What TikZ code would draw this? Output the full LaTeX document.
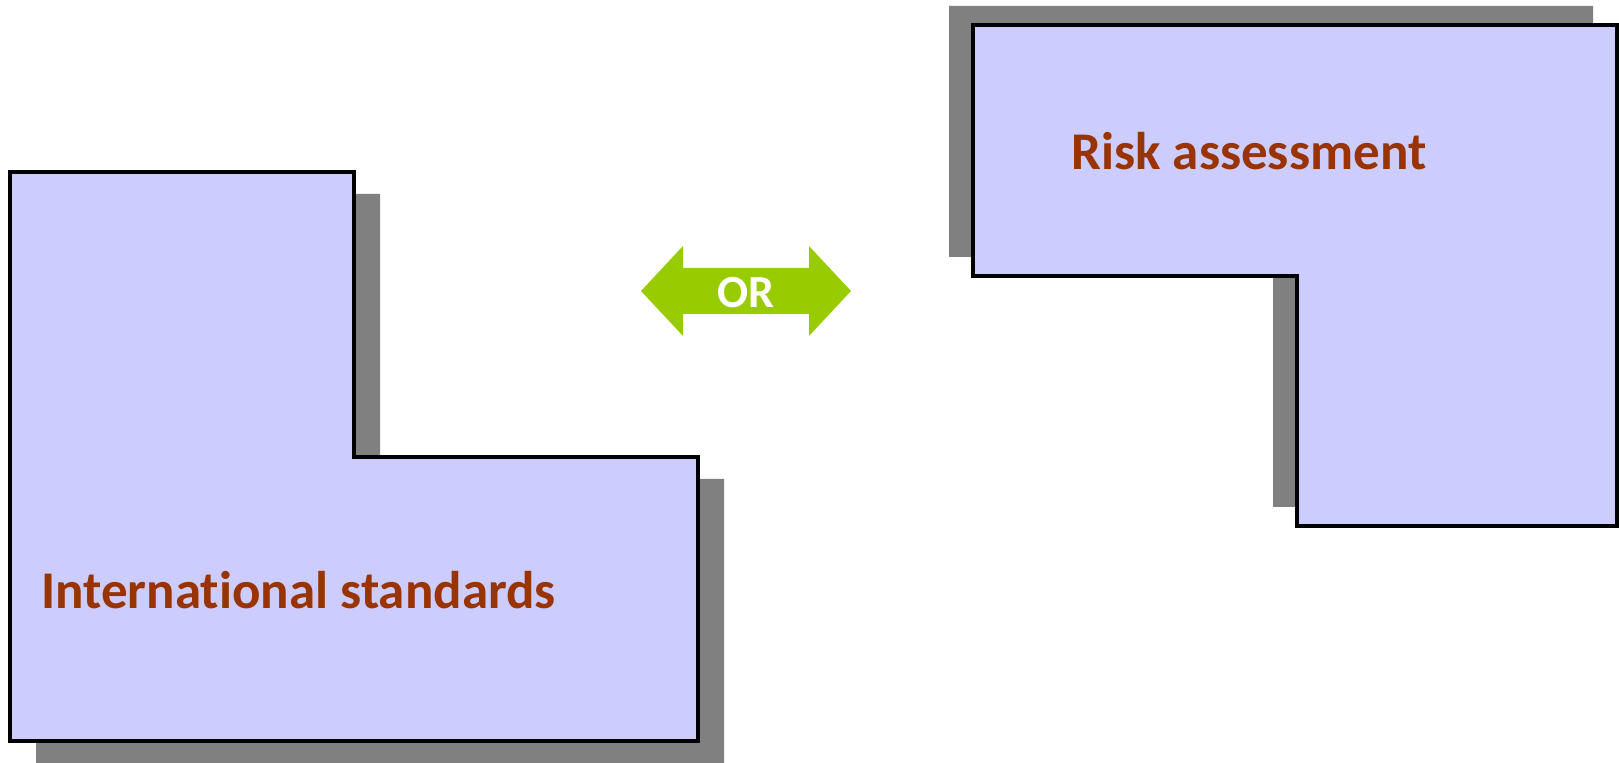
\documentclass[tikz,border=0pt]{standalone}
\usepackage{fontspec}
\setmainfont{Carlito}[Ligatures=NoCommon]
\definecolor{boxfill}{HTML}{CCCCFF}
\definecolor{shadowgray}{HTML}{808080}
\definecolor{labelbrown}{HTML}{993300}
\definecolor{arrowgreen}{HTML}{99CC00}
\begin{document}
\begin{tikzpicture}[x=0.5pt,y=-0.5pt,
  shadowshape/.style={fill=shadowgray,draw=none},
  lshape/.style={fill=boxfill,draw=black,line width=1.6pt,line join=miter},
  biglabel/.style={text=labelbrown,font=\fontsize{26.5pt}{30pt}\selectfont\bfseries,inner sep=0pt,anchor=base west},
  orlabel/.style={text=white,font=\fontsize{23pt}{26pt}\selectfont\bfseries,inner sep=0pt,anchor=base}]
\useasboundingbox (0,0) rectangle (1619,763);
% left shape shadow and outline
\fill[shadowshape] (36,194) -- (380,194) -- (380,479) -- (724,479) -- (724,763) -- (36,763) -- cycle;
\draw[lshape] (10,172) -- (354,172) -- (354,457) -- (698,457) -- (698,741) -- (10,741) -- cycle;
% right shape shadow and outline
\fill[shadowshape] (949,6) -- (1593,6) -- (1593,507) -- (1273,507) -- (1273,257) -- (949,257) -- cycle;
\draw[lshape] (973,25) -- (1617,25) -- (1617,526) -- (1297,526) -- (1297,276) -- (973,276) -- cycle;
% double arrow
\fill[arrowgreen] (641,291) -- (683,246) -- (683,268) -- (809,268) -- (809,246) -- (851,291)
  -- (809,336) -- (809,314) -- (683,314) -- (683,336) -- cycle;
\node[orlabel] (orl) at (746,308) {OR};
\node[biglabel] (intl) at (41,609) {International standards};
\node[biglabel] (risk) at (1071,170) {Risk assessment};
\end{tikzpicture}
\end{document}
